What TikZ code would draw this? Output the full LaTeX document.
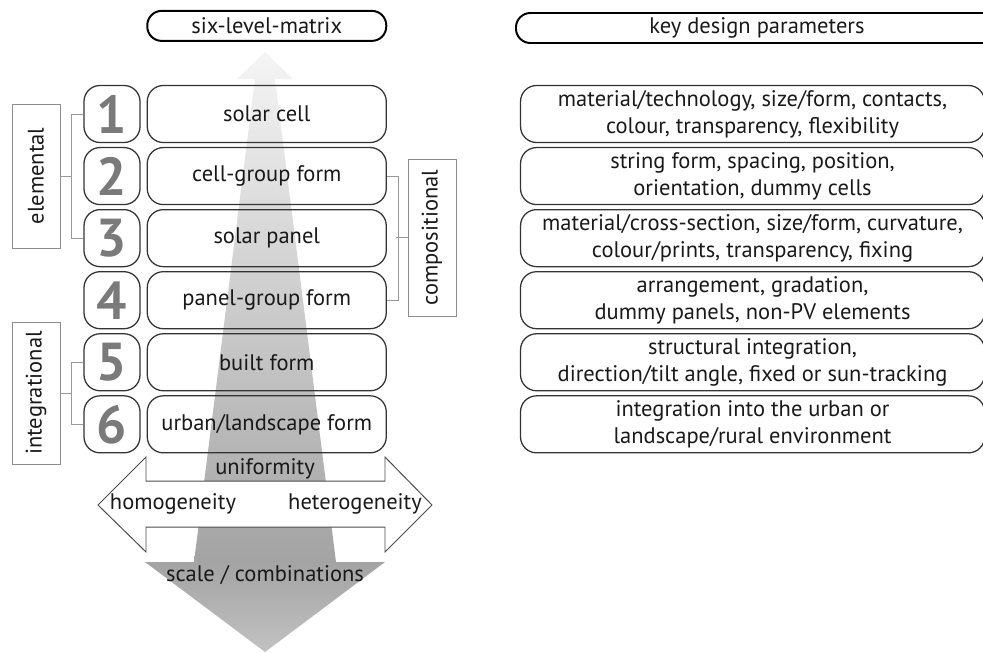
\documentclass[tikz,border=0pt]{standalone}
\usepackage{fontspec}
\setmainfont{PT Sans}
\usetikzlibrary{positioning}

\tikzset{
  txt/.style={font=\fontsize{16}{19.5}\selectfont, text=black!90},
  numbox/.style={draw=black!80, line width=0.9pt, rounded corners=0.4cm, minimum width=1.4cm, minimum height=1.425cm, inner sep=0pt, text=black!52, font=\fontsize{38}{38}\selectfont\bfseries},
  levelbox/.style={txt, draw=black!80, line width=0.9pt, rounded corners=0.4cm, minimum width=5.975cm, minimum height=1.425cm, inner sep=0pt, align=center},
  parambox/.style={levelbox, minimum width=11.6cm},
  header/.style={txt, draw=black, line width=1.4pt, rounded corners=0.36cm, minimum height=0.75cm, inner sep=0pt},
  groupbox/.style={txt, draw=black!45, line width=0.7pt, rotate=90, minimum height=1.2cm, inner sep=0pt},
  bracket/.style={draw=black!40, line width=0.7pt}
}

\begin{document}
\begin{tikzpicture}
  \useasboundingbox (0,0) rectangle (24.575,-16.3);

  % scale arrow
  \shade[top color=black!4, bottom color=black!36]
    (6.625,-1.3) -- (7.325,-1.975) -- (6.875,-1.975) -- (8.4,-14.05)
    -- (4.85,-14.05) -- (6.375,-1.975) -- (5.925,-1.975) -- cycle;
  \shade[top color=black!36, bottom color=black!24]
    (3.625,-14.05) -- (9.625,-14.05) -- (6.625,-16.3) -- cycle;

  % levels
  \node[numbox] (n1) at (2.8,-2.85) {1};
  \node[numbox, below=0.095cm of n1] (n2) {2};
  \node[numbox, below=0.095cm of n2] (n3) {3};
  \node[numbox, below=0.095cm of n3] (n4) {4};
  \node[numbox, below=0.095cm of n4] (n5) {5};
  \node[numbox, below=0.095cm of n5] (n6) {6};

  \node[levelbox, right=0.15cm of n1] (l1) {solar cell};
  \node[levelbox, right=0.15cm of n2] (l2) {cell-group form};
  \node[levelbox, right=0.15cm of n3] (l3) {solar panel};
  \node[levelbox, right=0.15cm of n4] (l4) {panel-group form};
  \node[levelbox, right=0.15cm of n5] (l5) {built form};
  \node[levelbox, right=0.15cm of n6] (l6) {urban/landscape form};

  \node[parambox, right=3.325cm of l1] (p1) {material/technology, size/form, contacts,\\colour, transparency, flexibility};
  \node[parambox, right=3.325cm of l2] (p2) {string form, spacing, position,\\orientation, dummy cells};
  \node[parambox, right=3.325cm of l3] (p3) {material/cross-section, size/form, curvature,\\colour/prints, transparency, fixing};
  \node[parambox, right=3.325cm of l4] (p4) {arrangement, gradation,\\dummy panels, non-PV elements};
  \node[parambox, right=3.325cm of l5] (p5) {structural integration,\\direction/tilt angle, fixed or sun-tracking};
  \node[parambox, right=3.325cm of l6] (p6) {integration into the urban or\\landscape/rural environment};

  % headers
  \node[header, minimum width=5.975cm, above=1.075cm of l1] (hsix) {six-level-matrix};
  \node[header, minimum width=12.05cm, anchor=west] (hkey) at (12.875,-0.7) {key design parameters};

  % groups
  \node[groupbox, minimum width=3.6cm] (elem) at (0.9,-4.4) {elemental};
  \node[groupbox, minimum width=3.55cm] (integ) at (0.9,-9.825) {integrational};
  \node[groupbox, minimum width=3.925cm] (comp) at (10.8,-5.94) {compositional};

  \draw[bracket] (n1.west) -- ++(-0.3,0) |- (n3.west);
  \draw[bracket] (elem.south) -- ++(0.3,0);
  \draw[bracket] (n5.west) -- ++(-0.3,0) |- (n6.west);
  \draw[bracket] (integ.south) -- ++(0.3,0);
  \draw[bracket] (l2.east) -- ++(0.3,0) |- (l4.east);
  \draw[bracket] (comp.north) -- ++(-0.3,0);

  % range arrow
  \draw[draw=black!70, line width=0.7pt, fill=white]
    (2.45,-12.625) -- (3.65,-11.425) -- (3.65,-12.025) -- (9.625,-12.025)
    -- (9.625,-11.425) -- (10.8,-12.625) -- (9.625,-13.8) -- (9.625,-13.175)
    -- (3.65,-13.175) -- (3.65,-13.8) -- cycle;

  \node[txt] (unif) at (6.625,-11.725) {uniformity};
  \node[txt] (homo) at (4.325,-12.6) {homogeneity};
  \node[txt] (hete) at (8.875,-12.6) {heterogeneity};
  \node[txt] (scale) at (6.625,-14.375) {scale / combinations};
\end{tikzpicture}
\end{document}
